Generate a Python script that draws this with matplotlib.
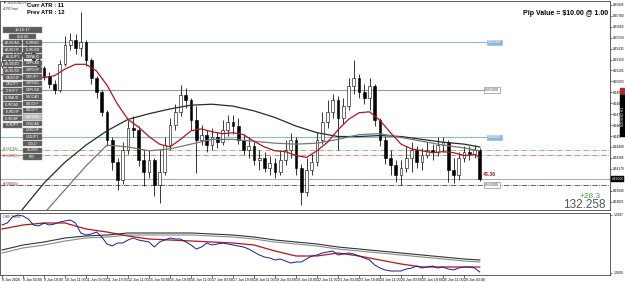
import matplotlib
matplotlib.use("Agg")
import matplotlib.pyplot as plt
from matplotlib.patches import Rectangle

plt.rcParams['font.family'] = ['Liberation Sans', 'DejaVu Sans']

W, H = 625, 282
BAR_PX = 5.25
X0_PX = 2.0
PANEL_RIGHT = 610

# ---- NZDUSD H1 (one bar here ~ 4 hours) ----
first_open = 0.6525
closes = [0.6529, 0.6525, 0.6534, 0.6540, 0.6536, 0.6542, 0.6532, 0.6523, 0.6515, 0.6506,
          0.6500, 0.6527, 0.6547, 0.6553, 0.6544, 0.6551, 0.6532, 0.6513, 0.6498, 0.6477,
          0.6447, 0.6424, 0.6405, 0.6437, 0.6460, 0.6458, 0.6426, 0.6414, 0.6426, 0.6400,
          0.6414, 0.6442, 0.6463, 0.6477, 0.6495, 0.6489, 0.6468, 0.6447, 0.6453, 0.6442,
          0.6450, 0.6445, 0.6458, 0.6466, 0.6462, 0.6447, 0.6437, 0.6441, 0.6426, 0.6428,
          0.6418, 0.6423, 0.6414, 0.6426, 0.6437, 0.6447, 0.6418, 0.6393, 0.6416, 0.6424,
          0.6447, 0.6466, 0.6477, 0.6489, 0.6471, 0.6483, 0.6504, 0.6513, 0.6498, 0.6492,
          0.6504, 0.6468, 0.6447, 0.6428, 0.6421, 0.6411, 0.6418, 0.6428, 0.6437, 0.6424,
          0.6432, 0.6437, 0.6435, 0.6442, 0.6445, 0.6416, 0.6410, 0.6428, 0.6435, 0.6433,
          0.6437, 0.6406]
highs = [0.6536, 0.6534, 0.6540, 0.6546, 0.6544, 0.6548, 0.6544, 0.6534, 0.6525, 0.6519,
         0.6511, 0.6532, 0.6557, 0.6560, 0.6559, 0.6582, 0.6553, 0.6534, 0.6515, 0.6500,
         0.6479, 0.6450, 0.6428, 0.6445, 0.6468, 0.6473, 0.6462, 0.6437, 0.6437, 0.6428,
         0.6437, 0.6450, 0.6471, 0.6485, 0.6505, 0.6502, 0.6492, 0.6483, 0.6463, 0.6458,
         0.6460, 0.6456, 0.6468, 0.6474, 0.6474, 0.6471, 0.6454, 0.6450, 0.6445, 0.6437,
         0.6435, 0.6431, 0.6428, 0.6437, 0.6447, 0.6455, 0.6450, 0.6422, 0.6428, 0.6433,
         0.6456, 0.6477, 0.6489, 0.6496, 0.6494, 0.6492, 0.6513, 0.6532, 0.6517, 0.6506,
         0.6513, 0.6506, 0.6471, 0.6452, 0.6437, 0.6426, 0.6426, 0.6441, 0.6445, 0.6441,
         0.6439, 0.6445, 0.6443, 0.6450, 0.6451, 0.6447, 0.6428, 0.6435, 0.6441, 0.6441,
         0.6442, 0.6439]
lows = [0.6523, 0.6521, 0.6523, 0.6532, 0.6529, 0.6534, 0.6527, 0.6519, 0.6511, 0.6502,
        0.6496, 0.6498, 0.6525, 0.6542, 0.6538, 0.6536, 0.6525, 0.6506, 0.6492, 0.6473,
        0.6441, 0.6416, 0.6395, 0.6401, 0.6433, 0.6450, 0.6420, 0.6399, 0.6407, 0.6388,
        0.6381, 0.6410, 0.6437, 0.6458, 0.6473, 0.6481, 0.6458, 0.6413, 0.6442, 0.6435,
        0.6437, 0.6439, 0.6442, 0.6452, 0.6454, 0.6443, 0.6432, 0.6428, 0.6421, 0.6416,
        0.6414, 0.6411, 0.6407, 0.6410, 0.6421, 0.6428, 0.6410, 0.6379, 0.6388, 0.6410,
        0.6420, 0.6443, 0.6460, 0.6471, 0.6437, 0.6464, 0.6479, 0.6496, 0.6492, 0.6485,
        0.6479, 0.6462, 0.6441, 0.6422, 0.6410, 0.6403, 0.6400, 0.6414, 0.6414, 0.6418,
        0.6416, 0.6428, 0.6426, 0.6431, 0.6435, 0.6403, 0.6402, 0.6405, 0.6424, 0.6426,
        0.6428, 0.6404]

# moving averages on the price panel
ma_fast_idx = list(range(0, 92, 2)) + [91]
ma_fast = [0.6516, 0.6515, 0.6513, 0.6514, 0.6513, 0.6515, 0.6522, 0.6527, 0.6527, 0.6520,
           0.6505, 0.6485, 0.6469, 0.6461, 0.6451, 0.6443, 0.6440, 0.6448, 0.6457, 0.6459,
           0.6456, 0.6454, 0.6455, 0.6453, 0.6446, 0.6440, 0.6436, 0.6435, 0.6431, 0.6429,
           0.6436, 0.6445, 0.6458, 0.6469, 0.6476, 0.6477, 0.6468, 0.6455, 0.6443, 0.6438,
           0.6436, 0.6434, 0.6435, 0.6434, 0.6431, 0.6432, 0.6429]
ma_slow_idx = list(range(0, 92, 4)) + [91]
ma_slow_a = [0.6347, 0.6375, 0.6402, 0.6424, 0.6442, 0.6457, 0.6469, 0.6475, 0.6480, 0.6484,
             0.6485, 0.6483, 0.6478, 0.6471, 0.6462, 0.6455, 0.6451, 0.6451, 0.6452, 0.6451,
             0.6448, 0.6445, 0.6443, 0.6440]
ma_slow_b = [0.6311, 0.6342, 0.6370, 0.6395, 0.6420, 0.6442, 0.6440, 0.6436, 0.6438, 0.6443,
             0.6448, 0.6448, 0.6446, 0.6444, 0.6443, 0.6444, 0.6448, 0.6453, 0.6454, 0.6450,
             0.6446, 0.6442, 0.6439, 0.6436]

# lower panel (OBV style) in panel units
obv = [50, 52, 58, 60, 59, 56, 50, 49, 52, 50, 51, 53, 54, 55, 52, 42, 40, 41, 43, 38,
       31, 29, 32, 32, 35, 37, 35, 34, 33, 28, 33, 35, 37, 36, 36, 33, 30, 26, 28, 32,
       30, 31, 32, 31, 30, 29, 28, 26, 23, 20, 18, 17, 15, 16, 14, 12, 13, 13, 16, 19,
       20, 22, 23, 24, 20, 21, 22, 21, 19, 17, 15, 10, 7, 5, 4, 4, 4, 6, 7, 9,
       7, 8, 9, 7, 8, 6, 5, 7, 8, 8, 7, 3]
obv_ma = [46, 50, 52, 52, 46, 43, 39, 36, 35, 34, 33, 32, 30, 24, 19, 19, 22, 19, 15, 11, 8, 8, 8, 8]
obv_slow_a = [25, 30, 33, 37, 39, 40, 42, 42, 42, 42, 41, 40, 38, 35, 33, 31, 28, 26, 24, 22, 20, 18, 16, 15]
obv_slow_b = [22, 27, 30, 34, 37, 38, 40, 40, 40, 40, 39, 38, 36, 33, 31, 29, 26, 24, 22, 20, 18, 16, 14, 13]

time_labels = ["8 Jun 2020", "9 Jun 03:00", "9 Jun 19:00", "10 Jun 11:00", "11 Jun 03:00",
               "11 Jun 19:00", "12 Jun 11:00", "15 Jun 03:00", "15 Jun 19:00", "16 Jun 11:00",
               "17 Jun 03:00", "17 Jun 19:00", "18 Jun 11:00", "19 Jun 03:00", "19 Jun 19:00",
               "22 Jun 11:00", "23 Jun 03:00", "23 Jun 19:00", "24 Jun 11:00", "25 Jun 03:00",
               "25 Jun 19:00", "26 Jun 11:00", "29 Jun 03:00"]

levels_blue = [0.6550, 0.6450]
levels_round = [0.6500, 0.6400]
level_green = 0.6437
level_red = 0.6432

left_symbols = ["AUDCAD", "AUDCHF", "AUDJPY", "AUDNZD", "AUDUSD", "CADCHF", "CADJPY",
                "CHFJPY", "EURAUD", "EURCAD", "EURCHF", "EURGBP", "EURJPY"]
right_symbols = ["EURNZD", "EURUSD", "GBPAUD", "GBPCAD", "GBPCHF", "GBPJPY", "GBPNZD",
                 "GBPUSD", "NZDCAD", "NZDCHF", "NZDJPY", "NZDUSD", "USDCAD", "USDCHF",
                 "USDJPY", "GOLD", "SILVER", "BTC"]


def fx(x):
    return x / W


def fy(y):
    return 1 - y / H


def bx(px):
    return (px - X0_PX) / BAR_PX


def py(price):
    # screen row of a price on the main panel
    return (0.65947 - price) * 9500


fig = plt.figure(figsize=(W / 100, H / 100), dpi=100)
ax = fig.add_axes([0, fy(210), PANEL_RIGHT / W, 209 / H])
ax2 = fig.add_axes([0, fy(275), PANEL_RIGHT / W, 62 / H])

# candles
opens = [first_open] + closes[:-1]
idx = list(range(len(closes)))
ax.vlines(idx, lows, highs, color='black', lw=0.55, zorder=3)
bodies = [max(abs(c - o), 0.00003) for o, c in zip(opens, closes)]
bottoms = [min(o, c) for o, c in zip(opens, closes)]
faces = ['white' if c >= o else 'black' for o, c in zip(opens, closes)]
ax.bar(idx, bodies, bottom=bottoms, width=0.5, color=faces, edgecolor='black', lw=0.4, zorder=4)

ax.plot(ma_slow_idx, ma_slow_a, color='#2a2a2a', lw=0.9, zorder=5)
ax.plot(ma_slow_idx, ma_slow_b, color='#777777', lw=0.9, zorder=5)
ax.plot(ma_fast_idx, ma_fast, color='#b3151b', lw=0.9, zorder=6)

# horizontal levels
for lv in levels_blue:
    ax.axhline(lv, xmax=487 / PANEL_RIGHT, color='#8fb8d8', lw=0.8, zorder=1)
    ax.text(bx(488), lv, f"{lv:.5f}", fontsize=2.6, color='white', va='center', ha='left',
            bbox=dict(boxstyle='square,pad=0.25', fc='#8fb8d8', ec='#8fb8d8', lw=0.4), zorder=7)
ax.axhline(levels_round[0], xmax=484 / PANEL_RIGHT, color='#9a9a9a', lw=0.8, zorder=1)
for lv in levels_round:
    ax.text(bx(485), lv, f"{lv:.5f}", fontsize=2.8, color='#444444', va='center', ha='left',
            bbox=dict(boxstyle='square,pad=0.25', fc='white', ec='#777777', lw=0.4), zorder=7)
ax.axhline(level_green, color='#74b874', lw=0.6, ls='-.', zorder=1)
ax.axhline(level_red, color='#d97070', lw=0.6, ls='-.', zorder=1)
ax.axhline(closes[-1], color='#a8a8a8', lw=0.7, zorder=1)
ax.axhline(levels_round[1], color='#8b2e2e', lw=0.6, ls='-.', zorder=2)

ax.text(bx(3), level_green + 0.00012, "#0.64370(k)", fontsize=2.2, color='#3b6e3b', va='center')
ax.text(bx(3), level_red - 0.00010, "#0.64315(R)", fontsize=2.2, color='#a04040', va='center')
ax.text(bx(3), levels_round[1] + 0.00015, "#0.64000(k)", fontsize=2.2, color='#702020', va='center')

ax.set_xlim(bx(0), bx(PANEL_RIGHT))
ax.set_ylim(0.65947 - 210 / 9500, 0.65947 - 1 / 9500)
ax.set_xticks([])
ax.yaxis.tick_right()
yt = [0.65895 - 0.00115 * n for n in range(19)]
ytl = []
for v in yt:
    lab = f"{v:.5f}"
    if 86 < py(v) < 139:
        lab = lab[:5]          # covered by the side tab in the terminal
    if 172 < py(v) < 186:
        lab = ""               # hidden by the current price tag
    ytl.append(lab)
ax.set_yticks(yt)
ax.set_yticklabels(ytl)
ax.tick_params(axis='y', labelsize=2.3, length=1.5, pad=0.8, width=0.4)
for s in ax.spines.values():
    s.set_linewidth(0.6)
    s.set_color('#444444')

# lower panel
ax2.plot(ma_slow_idx, obv_slow_a, color='#333333', lw=0.8)
ax2.plot(ma_slow_idx, obv_slow_b, color='#8a8a8a', lw=0.8)
ax2.plot(ma_slow_idx, obv_ma, color='#b3151b', lw=0.9)
ax2.plot(idx, obv, color='#1a1a9a', lw=0.7)
ax2.set_xlim(bx(0), bx(PANEL_RIGHT))
ax2.set_ylim(0, 62)
ax2.yaxis.tick_right()
ax2.set_yticks([60, 2])
ax2.set_yticklabels(["1.0687", "1.9600"])
ax2.tick_params(axis='y', labelsize=2.3, length=1.5, pad=0.8, width=0.4)
ax2.set_xticks(range(0, 92, 4))
ax2.set_xticklabels(time_labels, ha='left')
ax2.tick_params(axis='x', labelsize=2.6, length=2, pad=0.5, width=0.4)
ax2.text(bx(3), 58, "OBV 71883", fontsize=2.4, color='#333333', va='center')
for s in ax2.spines.values():
    s.set_linewidth(0.6)
    s.set_color('#444444')


def box(x0, y0, w, h, fc, ec='#8a8a8a', text=None, tc='white', fs=2.4):
    fig.add_artist(Rectangle((fx(x0), fy(y0 + h)), w / W, h / H, transform=fig.transFigure,
                             fc=fc, ec=ec, lw=0.3, zorder=10))
    if text:
        fig.text(fx(x0 + w / 2), fy(y0 + h / 2), text, fontsize=fs, color=tc,
                 ha='center', va='center', zorder=11)


# symbol buttons
box(3, 27, 39, 6, '#5c5c5c', text="18:16:17", fs=3)
box(9, 34, 27, 5, '#5c5c5c', text="$/18.00", fs=2.6)
for i, s in enumerate(left_symbols):
    box(3, 40.5 + 6.85 * i, 18.5, 5.6, '#5c5c5c', text=s)
for i, s in enumerate(right_symbols):
    hl = s == "NZDUSD"
    box(23, 40.5 + 6.7 * i, 19, 5.5, '#bdbdbd' if hl else '#5c5c5c', text=s)

# texts
fig.text(fx(3), fy(3), "\u25bc NZDUSD,H1", fontsize=2.6, color='#333333', va='center')
fig.text(fx(3), fy(9), "eCRChart", fontsize=2.6, color='#333333', va='center')
fig.text(fx(27), fy(5.5), "Curr ATR : 11", fontsize=4.2, fontweight='bold', va='center')
fig.text(fx(27), fy(12.5), "Prev ATR : 12", fontsize=4.2, fontweight='bold', va='center')
fig.text(fx(608), fy(13.5), "Pip Value = $10.00 @ 1.00", fontsize=5, fontweight='bold',
         ha='right', va='center')
fig.text(fx(483), fy(174), "43.36", fontsize=3.8, fontweight='bold', color='#a02020', va='center')
fig.text(fx(601), fy(196), "+28.3", fontsize=6, color='#45a845', ha='right', va='center')
fig.text(fx(606), fy(204.5), "132.258", fontsize=8.5, color='#555555', ha='right', va='center')

# current price tag and side tab
box(611, 176, 13, 6, 'black', ec='black')
fig.text(fx(617.5), fy(179), f"{closes[-1]:.5f}", fontsize=2.4, color='white', ha='center', va='center', zorder=12)
box(620, 88, 5, 7, '#a03030', ec='#a03030')
box(620, 95, 5, 42, 'black', ec='black')
fig.text(fx(622.5), fy(116), "NZDUSD H1", fontsize=2.4, color='white', rotation=90,
         ha='center', va='center', zorder=12)

fig.savefig("out.png", dpi=100)
